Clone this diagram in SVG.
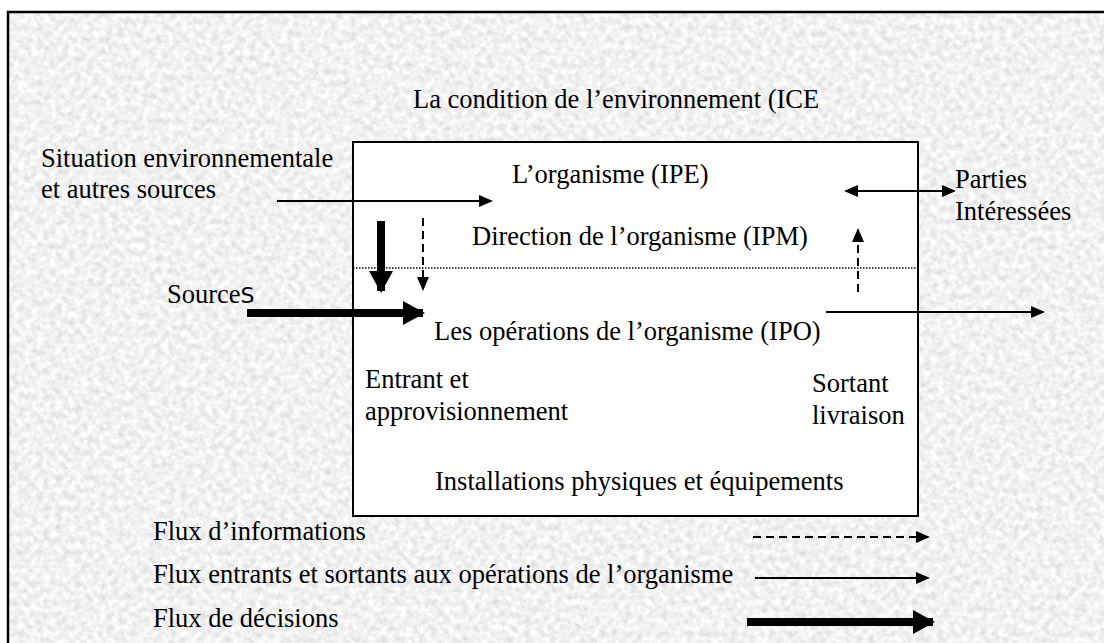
<svg xmlns="http://www.w3.org/2000/svg" width="1104" height="643" viewBox="0 0 1104 643">
  <defs>
    <filter id="grain" x="0" y="0" width="100%" height="100%">
      <feTurbulence type="fractalNoise" baseFrequency="0.16" numOctaves="3" seed="7" result="n"/>
      <feColorMatrix in="n" type="matrix" values="0.45 0 0 0 0.66  0.45 0 0 0 0.66  0.45 0 0 0 0.66  0 0 0 0 1"/>
    </filter>
    <marker id="head" viewBox="0 0 14 12" refX="12" refY="6" markerWidth="14" markerHeight="12" markerUnits="userSpaceOnUse" orient="auto-start-reverse">
      <path d="M0,0 L14,6 L0,12 z" fill="#000"/>
    </marker>
    <marker id="headBig" viewBox="0 0 22 24" refX="20" refY="12" markerWidth="22" markerHeight="24" markerUnits="userSpaceOnUse" orient="auto">
      <path d="M0,0 L22,12 L0,24 z" fill="#000"/>
    </marker>
  </defs>
  <style>
    .thin { stroke: #000; stroke-width: 2; fill: none; marker-end: url(#head); }
    .dash { stroke: #000; stroke-width: 2; fill: none; stroke-dasharray: 8 5; marker-end: url(#head); }
    .thick { stroke: #000; stroke-width: 8; fill: none; marker-end: url(#headBig); }
  </style>

  <!-- textured paper background -->
  <rect x="0" y="0" width="1104" height="643" fill="#ffffff"/>
  <rect x="8" y="12" width="1096" height="631" filter="url(#grain)"/>
  <path d="M8,643 V12 H1104" fill="none" stroke="#000" stroke-width="2.5"/>

  <g font-family="Liberation Serif, Times New Roman, serif" font-size="26.5" fill="#000">
    <g id="environment">
      <text x="413" y="108">La condition de l’environnement (ICE</text>
    </g>

    <g id="situation">
      <text x="41" y="167">Situation environnementale</text>
      <text x="41" y="198">et autres sources</text>
    </g>

    <g id="sources">
      <text x="167" y="303">Source<tspan font-family="DejaVu Sans, sans-serif" font-size="22">S</tspan></text>
    </g>

    <g id="parties">
      <text x="955" y="188">Parties</text>
      <text x="955" y="220">Intéressées</text>
    </g>

    <g id="organisme">
      <rect x="353" y="142" width="565" height="374" fill="#fff" stroke="#000" stroke-width="2"/>
      <line x1="353" y1="268" x2="918" y2="268" stroke="#000" stroke-width="1.5" stroke-dasharray="1.5 1.5"/>
      <text x="512" y="183">L’organisme (IPE)</text>
      <text x="472" y="245">Direction de l’organisme (IPM)</text>
      <text x="434" y="340">Les opérations de l’organisme (IPO)</text>
      <text x="365" y="388">Entrant et</text>
      <text x="365" y="420">approvisionnement</text>
      <text x="812" y="392">Sortant</text>
      <text x="812" y="424">livraison</text>
      <text x="435" y="490">Installations physiques et équipements</text>
    </g>

    <g id="legend">
      <text x="153" y="540">Flux d’informations</text>
      <text x="153" y="583">Flux entrants et sortants aux opérations de l’organisme</text>
      <text x="153" y="627">Flux de décisions</text>
    </g>
  </g>

  <g id="connectors">
    <line class="thin" x1="277" y1="201" x2="491" y2="201"/>
    <line class="thin" x1="846" y1="191" x2="954" y2="191" style="marker-start:url(#head)"/>
    <line class="thick" x1="381" y1="221" x2="381" y2="291"/>
    <line class="dash" x1="423" y1="218" x2="423" y2="289"/>
    <line class="dash" x1="858" y1="292" x2="858" y2="230"/>
    <line class="thick" x1="247" y1="313" x2="423" y2="313"/>
    <line class="thin" x1="826" y1="312" x2="1043" y2="312"/>
    <line class="dash" x1="753" y1="537" x2="928" y2="537"/>
    <line class="thin" x1="755" y1="578" x2="928" y2="578"/>
    <line class="thick" x1="747" y1="622" x2="933" y2="622"/>
  </g>
</svg>
